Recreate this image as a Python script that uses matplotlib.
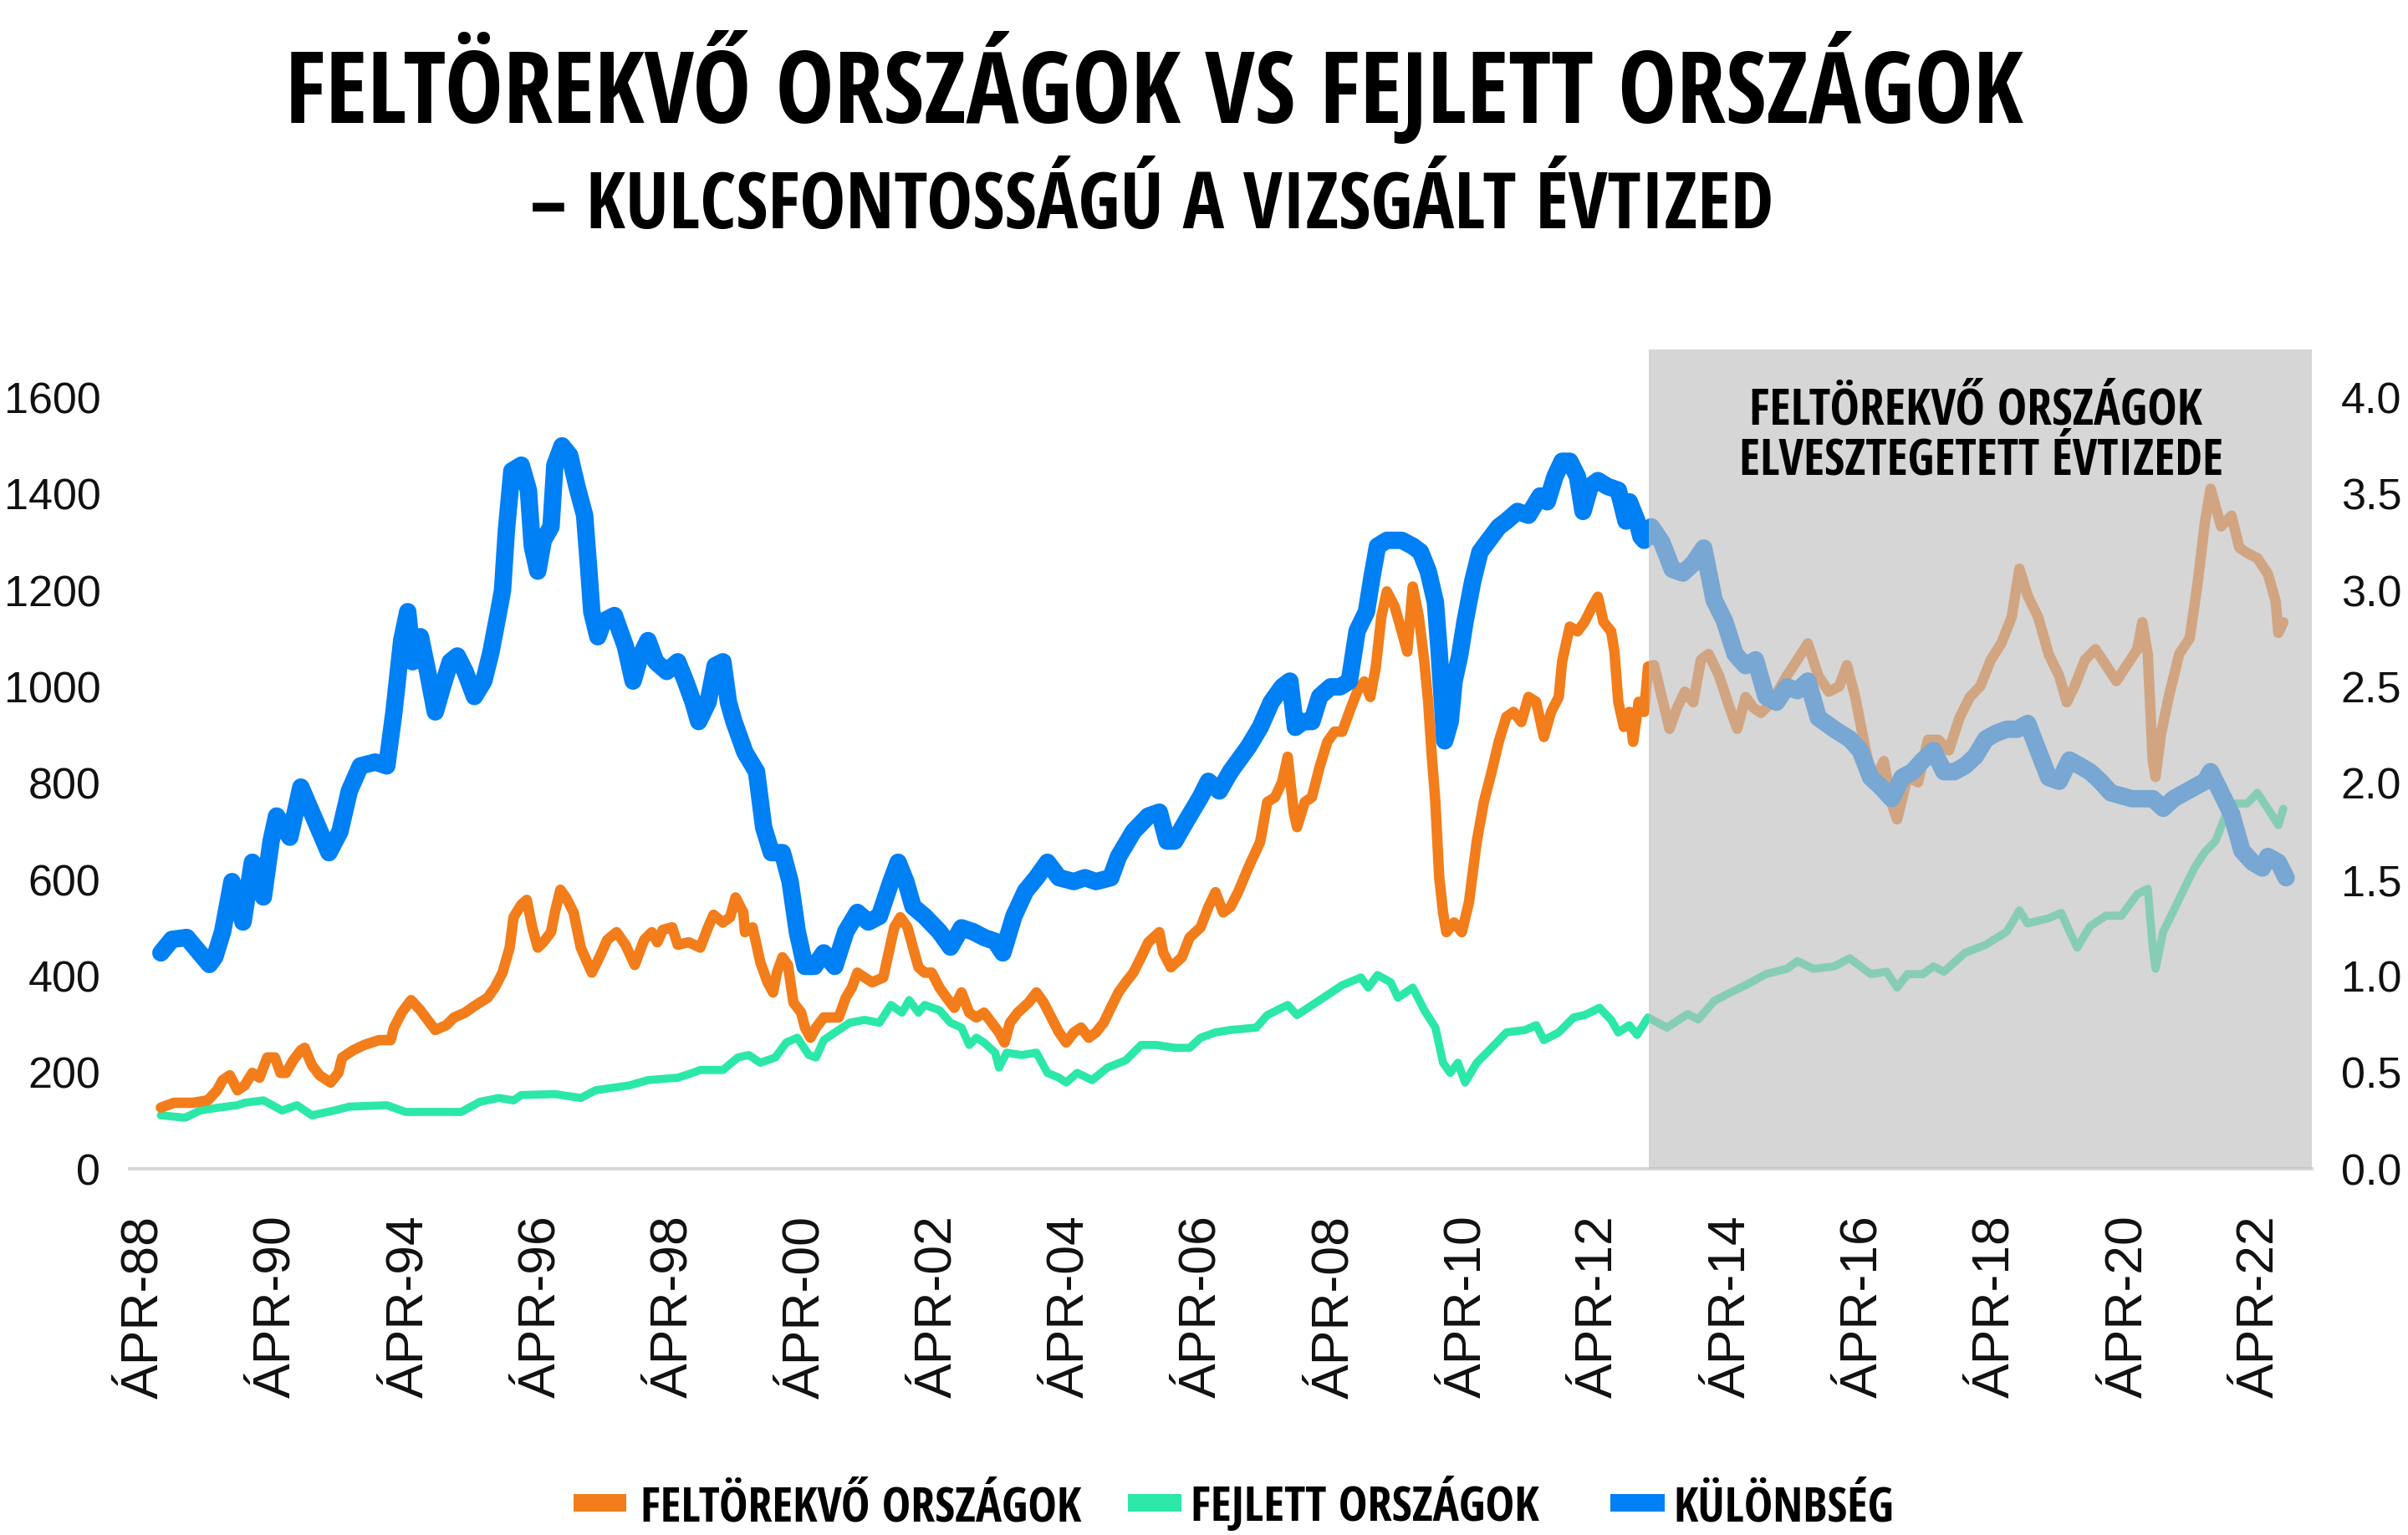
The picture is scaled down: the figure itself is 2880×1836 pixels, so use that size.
import numpy as np
import matplotlib
matplotlib.use('Agg')
import matplotlib.pyplot as plt
from matplotlib.patches import Rectangle
from matplotlib import font_manager as fm
from matplotlib import ft2font
from matplotlib.textpath import TextToPath

# ---------------- data ----------------
x_tick_labels = ['ÁPR-88', 'ÁPR-90', 'ÁPR-94', 'ÁPR-96', 'ÁPR-98', 'ÁPR-00', 'ÁPR-02',
                 'ÁPR-04', 'ÁPR-06', 'ÁPR-08', 'ÁPR-10', 'ÁPR-12', 'ÁPR-14', 'ÁPR-16',
                 'ÁPR-18', 'ÁPR-20', 'ÁPR-22']
months_per_tick = 24
left_ticks = [0, 200, 400, 600, 800, 1000, 1200, 1400, 1600]
right_ticks = [0.0, 0.5, 1.0, 1.5, 2.0, 2.5, 3.0, 3.5, 4.0]
shaded_start = 273.2   # month position where the "lost decade" begins

# Feltörekvő országok (left axis)
emerging_month = [3.1, 5.5, 8.9, 11.6, 13.3, 14.3, 15.6, 17.0, 18.3, 19.7, 21.0, 22.4, 23.8, 24.8, 25.8,
    27.1, 28.5, 29.2, 30.5, 31.9, 33.9, 35.3, 36.0, 38.0, 40.0, 42.7, 44.8, 45.4, 46.8, 48.5, 50.2,
    51.5, 52.9, 54.9, 56.3, 58.3, 60.3, 62.4, 63.7, 65.1, 66.4, 67.1, 68.5, 69.5, 70.5, 71.5, 72.5,
    73.9, 74.6, 75.6, 76.6, 78.0, 79.3, 81.3, 82.7, 84.1, 85.8, 87.4, 89.1, 90.8, 92.2, 93.2, 94.2,
    95.9, 96.9, 98.9, 101.0, 102.4, 103.4, 105.1, 106.4, 107.4, 108.8, 109.1, 110.5, 111.9, 113.2,
    114.2, 114.9, 115.9, 116.9, 117.9, 119.3, 120.0, 121.0, 122.0, 123.4, 124.7, 126.1, 127.4, 128.5,
    129.5, 130.8, 132.2, 134.2, 135.2, 136.2, 137.3, 138.6, 139.6, 140.6, 141.7, 143.0, 144.4, 145.7,
    147.1, 148.4, 149.8, 151.1, 152.5, 153.9, 155.2, 156.2, 157.2, 158.6, 160.6, 162.0, 163.3, 164.7,
    166.1, 167.4, 168.8, 170.1, 171.5, 172.8, 174.2, 175.5, 176.9, 178.2, 179.6, 181.0, 182.3, 184.3,
    185.0, 186.4, 188.4, 189.8, 191.8, 193.2, 194.5, 195.9, 197.2, 198.6, 200.5, 202.6, 203.9, 205.3,
    206.6, 207.6, 208.7, 209.3, 210.7, 212.0, 213.4, 214.8, 216.1, 217.5, 218.8, 220.2, 221.5, 222.6,
    223.6, 224.6, 225.6, 227.0, 228.3, 229.3, 230.3, 231.4, 232.4, 233.1, 233.7, 234.4, 235.1, 235.8,
    236.4, 237.8, 239.2, 240.5, 241.9, 243.2, 244.6, 245.9, 247.3, 248.6, 250.0, 251.3, 252.7, 254.1,
    255.4, 256.8, 257.4, 258.8, 260.2, 261.5, 262.9, 263.9, 264.9, 266.3, 266.9, 267.6, 268.6, 269.6,
    270.3, 271.3, 272.3, 273.0, 274.1, 275.5, 276.9, 278.3, 279.7, 281.2, 282.6, 284.0, 285.9, 287.8,
    289.2, 290.7, 292.1, 293.5, 295.4, 298.2, 300.1, 302.0, 303.9, 305.8, 307.7, 309.1, 310.6, 312.5,
    313.9, 315.8, 317.2, 318.2, 320.1, 322.0, 323.8, 325.7, 327.6, 329.5, 331.4, 333.3, 335.2, 337.1,
    339.0, 340.4, 341.9, 343.8, 345.7, 347.6, 349.0, 350.4, 352.3, 354.2, 356.1, 358.0, 359.9, 361.8,
    362.7, 363.7, 364.6, 365.1, 366.1, 367.5, 369.4, 371.3, 372.7, 374.1, 375.1, 377.0, 378.9, 380.3,
    381.7, 383.6, 385.5, 386.9, 387.4, 388.3]
emerging_value = [127, 137, 137, 142, 163, 184, 194, 163, 173, 199, 189, 231, 231, 199, 199,
    225, 246, 251, 215, 194, 179, 199, 231, 246, 257, 267, 267, 293, 324, 350, 329,
    309, 288, 298, 314, 324, 340, 355, 376, 407, 459, 522, 548, 558, 501, 459, 470,
    491, 532, 579, 563, 532, 459, 407, 439, 475, 491, 465, 423, 475, 491, 470, 496,
    501, 465, 470, 459, 501, 527, 511, 522, 563, 532, 491, 501, 428, 387,
    366, 407, 439, 423, 345, 324, 293, 272, 293, 314, 314, 314, 355, 376,
    407, 397, 387, 397, 449, 501, 522, 501, 459, 418, 407, 407, 376, 355,
    334, 366, 324, 314, 324, 303, 283, 262, 303, 324, 345, 366, 345, 314,
    283, 262, 283, 293, 272, 283, 303, 334, 366, 387, 407, 439, 470, 491,
    449, 418, 439, 480, 501, 543, 574, 532, 543, 574, 626, 678, 761, 771,
    803, 855, 740, 709, 761, 771, 834, 886, 907, 907, 948, 990, 1011, 979,
    1042, 1146, 1198, 1167, 1115, 1073, 1208, 1146, 1052, 969, 865, 761, 605, 532,
    491, 511, 491, 553, 678, 761, 823, 886, 938, 948, 927, 979, 969, 896,
    948, 979, 1052, 1125, 1115, 1135, 1167, 1187, 1135, 1115, 1073, 969, 917, 948,
    886, 969, 948, 1042, 1045, 979, 913, 957, 990, 968, 1056, 1068, 1023, 957,
    913, 979, 957, 946, 968, 1023, 1056, 1090, 1023, 990, 1001, 1045, 979, 868,
    802, 846, 758, 725, 813, 802, 890, 890, 868, 935, 979, 1001, 1056, 1090,
    1145, 1245, 1189, 1145, 1068, 1023, 968, 1001, 1056, 1078, 1045, 1012, 1045, 1078,
    1134, 1068, 846, 813, 902, 979, 1068, 1101, 1211, 1344, 1411, 1333, 1355, 1289,
    1278, 1267, 1234, 1178, 1112, 1134]

# Fejlett országok (left axis)
developed_month = [3.1, 7.5, 10.2, 13.6, 17.0, 18.3, 21.7, 25.1, 27.8, 30.5, 34.6, 37.3, 44.1, 47.5,
    57.6, 61.0, 64.4, 67.1, 68.5, 74.6, 79.3, 82.0, 88.1, 91.5, 96.9, 99.6, 101.0, 105.1, 107.8,
    109.8, 111.9, 114.6, 116.6, 118.6, 120.7, 122.0, 123.4, 126.1, 128.1, 130.8, 133.5, 135.6, 137.6,
    138.9, 140.6, 141.7, 144.4, 146.4, 148.4, 149.8, 151.1, 152.5, 154.5, 155.2, 156.6, 159.3, 162.0,
    164.0, 166.1, 167.4, 169.4, 172.1, 174.9, 178.2, 181.0, 183.7, 187.1, 189.8, 191.8, 194.5, 197.2,
    201.9, 203.9, 207.6, 209.3, 213.4, 217.5, 220.9, 222.2, 223.9, 226.3, 227.6, 230.3, 232.4, 234.4,
    235.8, 237.1, 238.5, 239.8, 241.9, 244.6, 247.3, 250.7, 252.7, 254.1, 256.8, 259.5, 261.5, 264.2,
    266.3, 267.6, 269.6, 271.0, 273.0, 276.4, 280.2, 282.1, 285.0, 287.8, 290.7, 294.4, 298.2, 300.1,
    303.0, 306.8, 309.6, 313.4, 316.3, 318.2, 320.1, 322.9, 324.8, 326.7, 330.5, 334.3, 338.1, 340.4,
    341.9, 345.7, 348.0, 349.5, 350.9, 353.2, 356.1, 358.9, 361.8, 363.7, 364.6, 365.1, 366.5, 368.4,
    370.3, 372.2, 374.1, 376.0, 377.9, 379.8, 381.7, 383.6, 385.5, 387.4, 388.3]
developed_value = [111, 106, 121, 127, 132, 137, 142, 121, 132, 111, 121, 129, 132, 118,
    118, 139, 147, 142, 153, 155, 147, 163, 173, 184, 189, 199, 205, 205, 231,
    236, 220, 231, 262, 272, 236, 231, 267, 288, 303, 309, 303, 340, 324,
    350, 324, 340, 329, 303, 293, 257, 272, 262, 241, 210, 241, 236, 241,
    199, 189, 179, 199, 184, 210, 225, 257, 257, 251, 251, 272, 283, 288,
    293, 319, 340, 319, 350, 381, 397, 376, 402, 387, 355, 376, 329, 293,
    220, 199, 220, 179, 220, 251, 283, 288, 298, 267, 283, 314, 319, 334,
    309, 283, 298, 278, 314, 293, 321, 310, 348, 365, 381, 404, 415, 431,
    415, 420, 437, 404, 409, 376, 404, 404, 420, 409, 448, 465, 492, 536,
    509, 520, 531, 492, 459, 503, 525, 525, 570, 581, 459, 415, 492, 536,
    581, 625, 658, 680, 736, 758, 758, 780, 747, 713, 747]

# Különbség (right axis, ratio)
difference_month = [3.1, 5.1, 7.8, 11.9, 12.9, 14.3, 16.0, 17.0, 18.0, 19.7, 21.7, 23.1, 24.1, 26.5,
    28.5, 31.2, 33.6, 35.6, 37.3, 39.3, 42.0, 44.1, 45.4, 46.8, 47.9, 48.8, 50.2, 51.5, 52.9, 54.2,
    55.6, 56.9, 58.3, 60.0, 61.7, 63.0, 64.4, 65.1, 65.8, 66.8, 68.5, 69.8, 70.5, 71.5, 72.5, 73.9,
    74.6, 75.9, 77.3, 78.6, 80.0, 80.7, 81.3, 82.4, 83.4, 85.4, 87.4, 88.8, 90.1, 91.5, 92.9, 94.9,
    96.9, 98.3, 99.7, 100.7, 102.4, 103.7, 105.1, 106.1, 107.1, 109.1, 111.2, 112.5, 113.9, 115.9,
    117.3, 118.6, 120.0, 121.7, 123.4, 125.4, 127.4, 129.5, 131.5, 133.5, 135.6, 136.9, 138.3, 139.6,
    141.7, 144.4, 146.4, 148.4, 150.5, 152.5, 154.5, 155.9, 157.9, 160.0, 162.0, 164.0, 166.1, 168.8,
    170.8, 172.8, 175.5, 176.9, 179.6, 182.3, 184.3, 185.7, 187.1, 189.1, 191.8, 193.2, 195.2, 197.2,
    200.5, 202.6, 204.6, 206.6, 208.0, 209.0, 210.4, 212.0, 213.4, 215.4, 217.1, 218.8, 220.2, 221.9,
    222.9, 223.9, 225.6, 228.3, 230.3, 231.7, 233.1, 234.4, 235.1, 235.8, 236.1, 237.1, 237.8, 238.8,
    239.8, 241.2, 242.5, 244.6, 245.9, 247.3, 249.3, 251.3, 253.4, 254.7, 256.1, 257.4, 258.8, 260.2,
    261.2, 262.5, 263.9, 265.6, 267.6, 269.0, 269.6, 271.0, 271.7, 272.3, 273.0, 273.6, 275.5, 277.4,
    279.3, 281.2, 283.1, 285.0, 286.9, 288.8, 290.7, 292.5, 294.4, 296.3, 298.2, 300.1, 302.0, 303.9,
    306.8, 309.6, 311.5, 313.4, 315.3, 317.2, 319.1, 321.0, 322.9, 324.8, 326.7, 328.6, 330.5, 332.4,
    334.3, 336.2, 338.1, 340.0, 341.9, 343.8, 345.7, 347.6, 349.5, 351.4, 353.2, 355.1, 357.0, 360.8,
    362.7, 364.6, 366.5, 368.4, 370.3, 372.2, 374.1, 375.1, 377.0, 378.9, 380.8, 382.7, 384.5, 385.5,
    387.4, 388.8]
difference_ratio = [1.12, 1.19, 1.20, 1.06, 1.10, 1.23, 1.49, 1.38, 1.28, 1.59, 1.41, 1.70, 1.83, 1.72,
    1.98, 1.80, 1.64, 1.75, 1.96, 2.09, 2.11, 2.09, 2.37, 2.74, 2.89, 2.63, 2.76, 2.58, 2.37, 2.50,
    2.63, 2.66, 2.58, 2.45, 2.53, 2.68, 2.89, 3.00, 3.31, 3.62, 3.65, 3.52, 3.23, 3.10, 3.26, 3.33,
    3.65, 3.75, 3.70, 3.54, 3.39, 3.13, 2.89, 2.76, 2.84, 2.87, 2.71, 2.53, 2.66, 2.74, 2.63, 2.58,
    2.63, 2.53, 2.42, 2.32, 2.42, 2.61, 2.63, 2.42, 2.32, 2.16, 2.06, 1.77, 1.64, 1.64,
    1.49, 1.23, 1.05, 1.05, 1.12, 1.05, 1.23, 1.33, 1.28, 1.31, 1.49, 1.59, 1.49, 1.36,
    1.31, 1.23, 1.15, 1.25, 1.23, 1.20, 1.18, 1.12, 1.31, 1.44, 1.51, 1.59, 1.51, 1.49,
    1.51, 1.49, 1.51, 1.62, 1.75, 1.83, 1.85, 1.70, 1.70, 1.80, 1.93, 2.01, 1.96, 2.06,
    2.19, 2.29, 2.42, 2.50, 2.53, 2.29, 2.32, 2.32, 2.45, 2.50, 2.50, 2.53, 2.79, 2.89,
    3.07, 3.23, 3.26, 3.26, 3.23, 3.20, 3.10, 2.94, 2.68, 2.37, 2.22, 2.32, 2.53, 2.66,
    2.84, 3.05, 3.20, 3.28, 3.33, 3.36, 3.41, 3.39, 3.49, 3.46, 3.59, 3.67, 3.67, 3.59,
    3.41, 3.54, 3.57, 3.54, 3.52, 3.36, 3.46, 3.36, 3.28, 3.26, 3.28, 3.33, 3.25, 3.11,
    3.09, 3.14, 3.22, 2.95, 2.84, 2.67, 2.61, 2.64, 2.45, 2.42, 2.50, 2.48, 2.53, 2.34,
    2.28, 2.23, 2.17, 2.03, 1.98, 1.92, 2.03, 2.06, 2.12, 2.17, 2.06, 2.06, 2.09, 2.14,
    2.23, 2.26, 2.28, 2.28, 2.31, 2.17, 2.03, 2.01, 2.12, 2.09, 2.06, 2.01, 1.95, 1.92,
    1.92, 1.92, 1.87, 1.92, 1.95, 1.98, 2.01, 2.06, 1.95, 1.84, 1.65, 1.59, 1.56, 1.62,
    1.59, 1.51]

title_line1 = 'FELTÖREKVŐ ORSZÁGOK VS FEJLETT ORSZÁGOK'
title_line2 = '– KULCSFONTOSSÁGÚ A VIZSGÁLT ÉVTIZED'
box_line1 = 'FELTÖREKVŐ ORSZÁGOK'
box_line2 = 'ELVESZTEGETETT ÉVTIZEDE'
series_names = ['FELTÖREKVŐ ORSZÁGOK', 'FEJLETT ORSZÁGOK', 'KÜLÖNBSÉG']

ORANGE = '#F27D1A'
GREEN = '#2BE8A9'
BLUE = '#0080F5'

# ---------------- fonts ----------------
def has_font(name):
    try:
        fm.findfont(fm.FontProperties(family=name), fallback_to_default=False)
        return True
    except Exception:
        return False


SANS_FAMILIES = ('DejaVu Sans', 'Liberation Sans', 'Noto Sans', 'Roboto', 'Open Sans', 'Lato', 'Inter')


def best_condensed_bold(sample, target_ratio):
    """Among the listed sans families, pick the bold face whose width/cap-height ratio
    for the sample string is closest to the reference lettering."""
    ttp = TextToPath()
    need = set(c for c in sample if c != ' ')
    best, best_score = None, None
    for fe in fm.fontManager.ttflist:
        name = fe.name
        if not name.startswith(SANS_FAMILIES):
            continue
        if any(k in name for k in ('Mono', 'CJK', 'Serif', 'Math', 'Symbol')):
            continue
        if fe.style != 'normal':
            continue
        w = fe.weight
        if isinstance(w, str):
            w = fm.weight_dict.get(w, 400)
        if w < 700:
            continue
        try:
            cmap = ft2font.FT2Font(fe.fname).get_charmap()
            if not all(ord(c) in cmap for c in need):
                continue
            prop = fm.FontProperties(fname=fe.fname, size=100)
            wid, _, _ = ttp.get_text_width_height_descent(sample, prop, ismath=False)
            _, hh, _ = ttp.get_text_width_height_descent('H', prop, ismath=False)
            score = abs(np.log((wid / hh) / target_ratio)) - 0.02 * (w - 700) / 100
        except Exception:
            continue
        if best_score is None or score < best_score:
            best, best_score = fe.fname, score
    return best


COND_FILE = best_condensed_bold(title_line1, 2081 / 93)
TICKF = 'Liberation Sans' if has_font('Liberation Sans') else 'DejaVu Sans'
plt.rcParams['font.family'] = [TICKF, 'DejaVu Sans']

W, H = 2880, 1836
fig = plt.figure(figsize=(W / 100, H / 100), dpi=100)
fig.patch.set_facecolor('white')

px_per_month = 6.59
x0_px = 172
ax_left, ax_right, ax_top, ax_bottom = 155, 2765, 418, 1398
ax = fig.add_axes([ax_left / W, 1 - ax_bottom / H, (ax_right - ax_left) / W, (ax_bottom - ax_top) / H])
xmin = (ax_left - x0_px) / px_per_month
xmax = (ax_right - x0_px) / px_per_month

lkw = dict(solid_joinstyle='round', solid_capstyle='round')
ax.plot(developed_month, developed_value, color=GREEN, lw=7.0, zorder=2, **lkw)
ax.plot(emerging_month, emerging_value, color=ORANGE, lw=9.0, zorder=3, **lkw)
ax.set_ylim(0, 1700)
ax.set_yticks(left_ticks)
ax.set_yticklabels([str(t) for t in left_ticks])

ax2 = ax.twinx()
ax2.plot(difference_month, difference_ratio, color=BLUE, lw=15, zorder=2, **lkw)
ax2.set_ylim(0, 1700 / 400)
ax2.set_yticks(right_ticks)
ax2.set_yticklabels([f'{t:.1f}' for t in right_ticks])
ax2.axvspan(shaded_start, xmax, facecolor=(0.745, 0.745, 0.745), alpha=0.63, lw=0, zorder=5)

ax.set_xlim(xmin, xmax)
ax.set_xticks(np.arange(len(x_tick_labels)) * months_per_tick)
ax.set_xticklabels(x_tick_labels, rotation=90)

for a in (ax, ax2):
    for s in a.spines.values():
        s.set_visible(False)
ax.spines['bottom'].set_visible(True)
ax.spines['bottom'].set_color('#d9d9d9')
ax.spines['bottom'].set_linewidth(3)

ax.tick_params(axis='x', length=0, pad=40, labelsize=45, labelcolor='#111111')
ax.tick_params(axis='y', length=0, pad=25, labelsize=37.5, labelcolor='#111111')
ax2.tick_params(axis='y', length=0, pad=25, labelsize=37.5, labelcolor='#111111')

renderer = fig.canvas.get_renderer()


def fit_text(xc_px, base_px, s, width_px, ha='center', **kw):
    if COND_FILE:
        fp = fm.FontProperties(fname=COND_FILE, size=50)
    else:
        fp = fm.FontProperties(family='DejaVu Sans', weight='bold', size=50)
    t = fig.text(xc_px / W, 1 - base_px / H, s, ha=ha, va='baseline',
                 fontproperties=fp, color='black', **kw)
    w = t.get_window_extent(renderer).width
    t.set_fontsize(50 * width_px / w)
    return t


fit_text(1380, 147, title_line1, 2081)
fit_text(1378, 273, title_line2, 1488)
fit_text(2363, 507, box_line1, 542, zorder=10)
fit_text(2370, 568, box_line2, 580, zorder=10)

legend_items = [
    (ORANGE, 686, 749, 766, 1295),
    (GREEN, 1349, 1413, 1424, 1842),
    (BLUE, 1926, 1991, 2001, 2265),
]
for (col, p0, p1, t0, t1), name in zip(legend_items, series_names):
    fig.add_artist(Rectangle((p0 / W, 1 - 1808 / H), (p1 - p0) / W, 21 / H,
                             transform=fig.transFigure, facecolor=col, edgecolor='none'))
    fit_text(t0, 1819, name, t1 - t0, ha='left')

fig.savefig('out.png', dpi=100, facecolor='white')
